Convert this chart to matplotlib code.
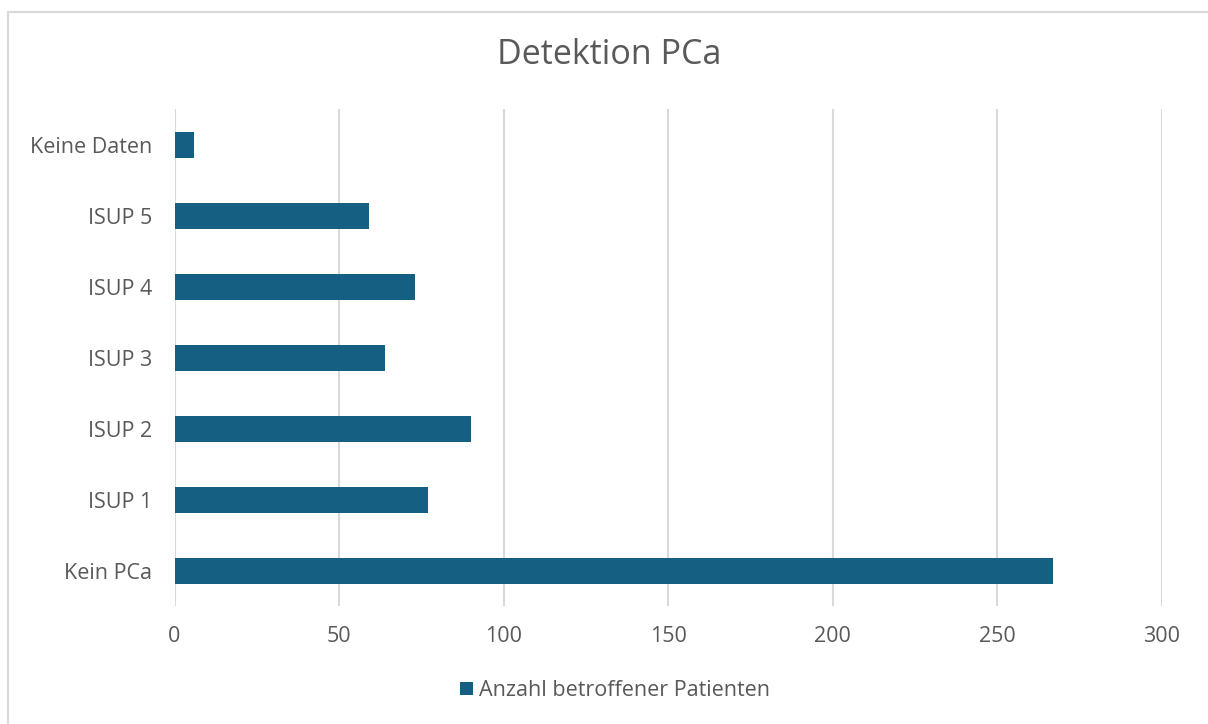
import matplotlib.pyplot as plt
from matplotlib.patches import Rectangle

categories = ['Kein PCa', 'ISUP 1', 'ISUP 2', 'ISUP 3', 'ISUP 4', 'ISUP 5', 'Keine Daten']
patients = [267, 77, 90, 64, 73, 59, 6]
x_ticks = [0, 50, 100, 150, 200, 250, 300]

bar_color = '#156082'
text_color = '#595959'
grid_color = '#d9d9d9'

plt.rcParams['font.family'] = ['Open Sans', 'DejaVu Sans']

fig = plt.figure(figsize=(12.08, 7.24), dpi=100)
ax = fig.add_axes([0.1445, 0.1623, 0.8174, 0.6865])

ax.barh(categories, patients, height=0.36, color=bar_color, label='Anzahl betroffener Patienten', zorder=3)

ax.set_xlim(0, 300)
ax.set_ylim(-0.5, len(categories) - 0.5)
ax.set_xticks(x_ticks)
ax.grid(axis='x', color=grid_color, linewidth=1.5, zorder=0)
ax.tick_params(axis='both', length=0, labelsize=15.5, labelcolor=text_color)
ax.tick_params(axis='y', pad=16)
ax.tick_params(axis='x', pad=14)
for spine in ax.spines.values():
    spine.set_visible(False)

fig.text(0.504, 0.924, 'Detektion PCa', ha='center', va='center', fontsize=24.5, color=text_color)

leg = fig.legend(loc='center', bbox_to_anchor=(0.509, 0.046), frameon=False, fontsize=15.5,
                 handlelength=0.6, handleheight=0.6, handletextpad=0.3, labelcolor=text_color)

# light chart border
fig.patches.append(Rectangle((8 / 1208, -0.1), 1.2, 1 - 12 / 724 + 0.1, transform=fig.transFigure,
                             fill=False, edgecolor=grid_color, linewidth=1.5))

fig.savefig('out.png', dpi=100)
